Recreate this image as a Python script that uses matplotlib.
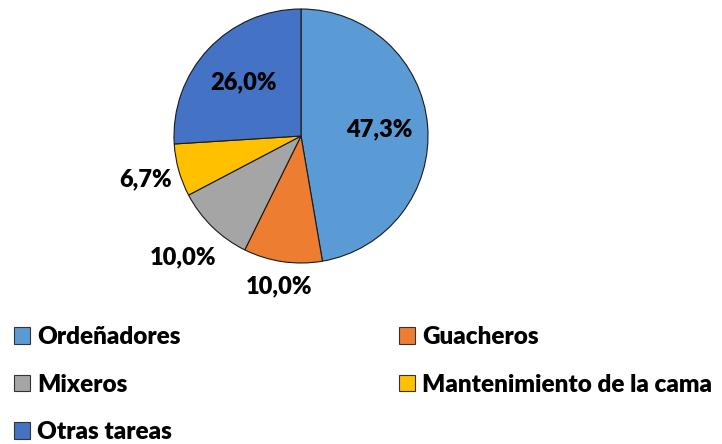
import matplotlib.pyplot as plt
import matplotlib.patches as mpatches
import numpy as np

# ----------------------------
# Data
# ----------------------------
categories = ["Ordeñadores", "Guacheros", "Mixeros", "Mantenimiento de la cama", "Otras tareas"]
values = [47.3, 10.0, 10.0, 6.7, 26.0]
colors = ["#5B9BD5", "#ED7D31", "#A5A5A5", "#FFC000", "#4472C4"]
# radial distance of each percentage label (fraction of radius)
label_dist = [0.62, 1.2, 1.33, 1.27, 0.62]

plt.rcParams["font.family"] = ["Lato", "DejaVu Sans"]

fig = plt.figure(figsize=(7.22, 4.44), dpi=100)

# pie centre ~ (301, 136) px, radius ~127 px
r_px = 127
ax = fig.add_axes([(301 - r_px) / 722, (444 - 136 - r_px) / 444, 2 * r_px / 722, 2 * r_px / 444])

wedges, _ = ax.pie(values, colors=colors, startangle=90, counterclock=False,
                   wedgeprops=dict(edgecolor="#1a1a1a", linewidth=0.8))
ax.set_xlim(-1, 1)
ax.set_ylim(-1, 1)
ax.set_aspect("equal")
ax.axis("off")

# percentage labels
for w, v, dist in zip(wedges, values, label_dist):
    ang = np.deg2rad((w.theta1 + w.theta2) / 2)
    txt = f"{v:.1f}%".replace(".", ",")
    ax.text(dist * np.cos(ang), dist * np.sin(ang), txt, ha="center", va="center",
            fontsize=17, fontweight="heavy", color="black", clip_on=False)

# legend, row-major order like the reference
order = [0, 2, 4, 1, 3]
handles = [mpatches.Patch(facecolor=colors[i], edgecolor="#333333", linewidth=0.8,
                          label=categories[i]) for i in order]
fig.legend(handles=handles, loc="upper left", bbox_to_anchor=(-0.011, 0.315), ncol=2,
           frameon=False, prop=dict(size=17.5, weight="heavy"), handlelength=0.65,
           handleheight=0.65, handletextpad=0.3, labelspacing=1.05, columnspacing=9.0)

fig.savefig("out.png", dpi=100)
